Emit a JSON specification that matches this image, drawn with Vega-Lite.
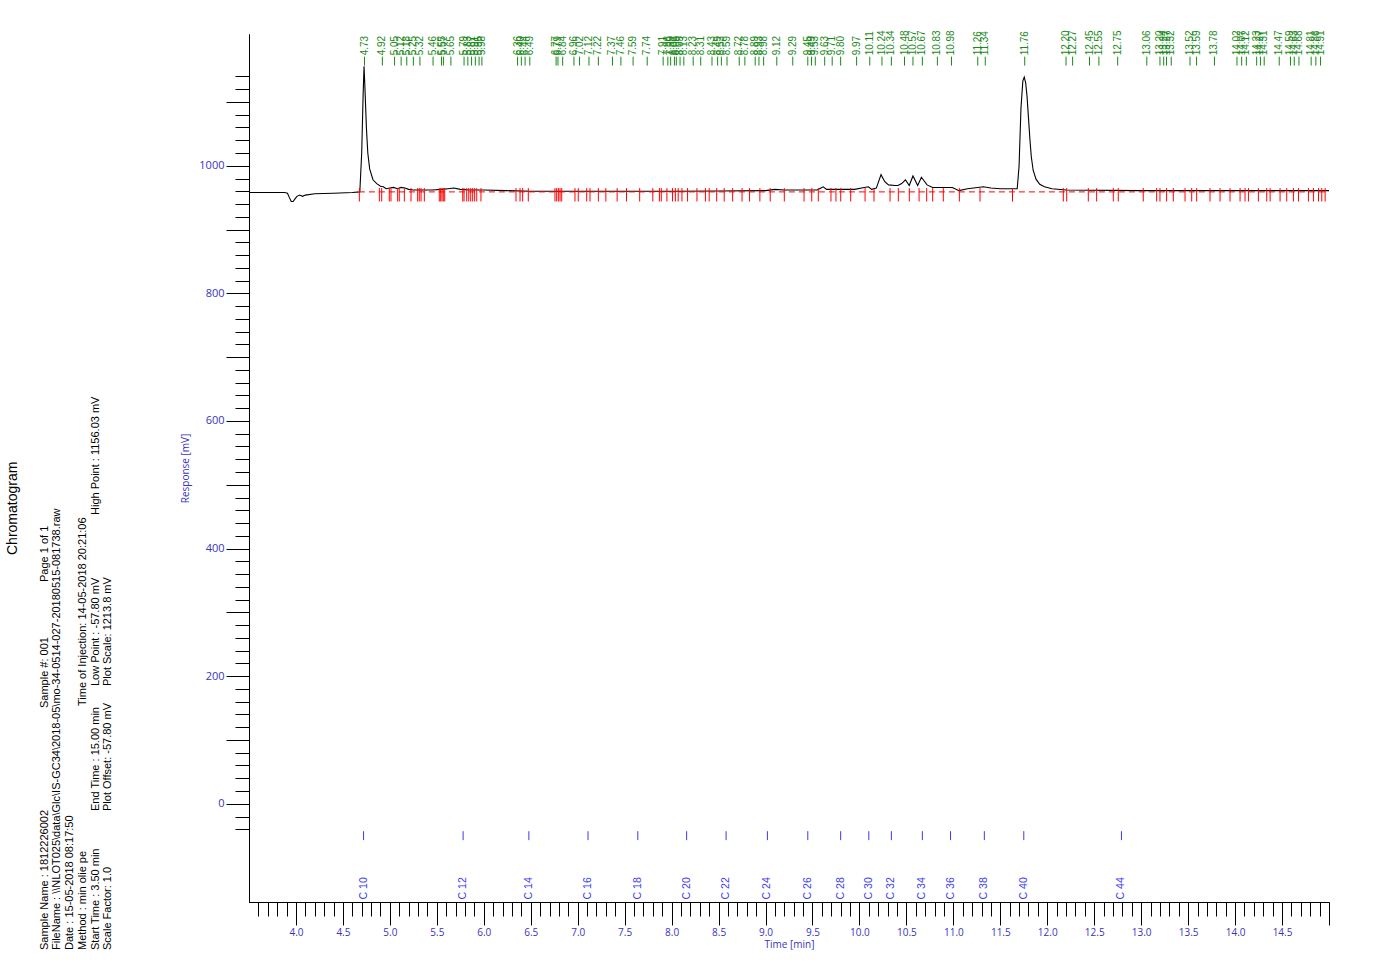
{
  "$schema": "https://vega.github.io/schema/vega-lite/v6.json",
  "width": 1080,
  "height": 868,
  "autosize": {"type": "none"},
  "padding": {"left": 249, "top": 34, "right": 50, "bottom": 76},
  "background": "white",
  "config": {
    "view": {"stroke": null},
    "axis": {"grid": false, "domainColor": "black", "tickColor": "black", "labelFont": "Open Sans", "titleFont": "Open Sans", "titleFontWeight": "normal", "domainWidth": 1, "tickWidth": 1}
  },
  "datasets": {
    "trace": [
      {"t": 3.5, "v": 958}, {"t": 3.7, "v": 958}, {"t": 3.88, "v": 958}, {"t": 3.91, "v": 957}, {"t": 3.93, "v": 950}, {"t": 3.95, "v": 944}, {"t": 3.97, "v": 944}, {"t": 3.99, "v": 948}, {"t": 4.01, "v": 952}, {"t": 4.04, "v": 954}, {"t": 4.07, "v": 952}, {"t": 4.1, "v": 954}, {"t": 4.2, "v": 956}, {"t": 4.4, "v": 957}, {"t": 4.6, "v": 958}, {"t": 4.68, "v": 959},
      {"t": 4.7, "v": 1020}, {"t": 4.715, "v": 1110}, {"t": 4.725, "v": 1156}, {"t": 4.735, "v": 1120}, {"t": 4.75, "v": 1060}, {"t": 4.765, "v": 1020}, {"t": 4.785, "v": 995}, {"t": 4.82, "v": 978}, {"t": 4.86, "v": 972}, {"t": 4.9, "v": 968}, {"t": 4.93, "v": 967}, {"t": 4.96, "v": 964}, {"t": 5.0, "v": 965}, {"t": 5.04, "v": 966}, {"t": 5.08, "v": 964}, {"t": 5.12, "v": 966}, {"t": 5.16, "v": 965}, {"t": 5.2, "v": 963}, {"t": 5.25, "v": 962}, {"t": 5.35, "v": 962}, {"t": 5.45, "v": 962}, {"t": 5.55, "v": 963}, {"t": 5.62, "v": 964}, {"t": 5.68, "v": 965}, {"t": 5.75, "v": 963}, {"t": 5.85, "v": 962}, {"t": 6.0, "v": 962}, {"t": 6.24, "v": 961}, {"t": 6.5, "v": 960}, {"t": 6.95, "v": 960}, {"t": 7.5, "v": 960}, {"t": 8.0, "v": 960}, {"t": 8.5, "v": 960.5}, {"t": 9.0, "v": 961}, {"t": 9.1, "v": 963}, {"t": 9.2, "v": 962}, {"t": 9.4, "v": 962}, {"t": 9.55, "v": 962}, {"t": 9.6, "v": 966}, {"t": 9.615, "v": 967}, {"t": 9.65, "v": 963}, {"t": 9.8, "v": 963}, {"t": 9.95, "v": 963}, {"t": 10.05, "v": 966}, {"t": 10.095, "v": 967}, {"t": 10.13, "v": 963}, {"t": 10.18, "v": 965}, {"t": 10.23, "v": 986}, {"t": 10.27, "v": 975}, {"t": 10.31, "v": 970}, {"t": 10.38, "v": 969}, {"t": 10.41, "v": 969}, {"t": 10.45, "v": 972}, {"t": 10.49, "v": 978}, {"t": 10.53, "v": 969}, {"t": 10.57, "v": 984}, {"t": 10.62, "v": 969}, {"t": 10.66, "v": 982}, {"t": 10.72, "v": 970}, {"t": 10.78, "v": 966}, {"t": 10.9, "v": 966}, {"t": 10.99, "v": 966}, {"t": 11.06, "v": 961}, {"t": 11.15, "v": 964}, {"t": 11.32, "v": 967}, {"t": 11.4, "v": 965}, {"t": 11.5, "v": 964}, {"t": 11.64, "v": 964}, {"t": 11.68, "v": 964},
      {"t": 11.7, "v": 1000}, {"t": 11.72, "v": 1090}, {"t": 11.74, "v": 1133}, {"t": 11.755, "v": 1139}, {"t": 11.77, "v": 1130}, {"t": 11.785, "v": 1108}, {"t": 11.8, "v": 1075}, {"t": 11.815, "v": 1042}, {"t": 11.83, "v": 1014}, {"t": 11.85, "v": 993}, {"t": 11.88, "v": 979}, {"t": 11.92, "v": 971}, {"t": 11.97, "v": 967}, {"t": 12.05, "v": 964}, {"t": 12.2, "v": 962}, {"t": 13.0, "v": 961}, {"t": 14.0, "v": 961}, {"t": 15.0, "v": 961}
    ],
    "peaks": [
      {"rt": 4.73}, {"rt": 4.92}, {"rt": 5.05}, {"rt": 5.12}, {"rt": 5.18}, {"rt": 5.25}, {"rt": 5.32}, {"rt": 5.46}, {"rt": 5.55}, {"rt": 5.57}, {"rt": 5.65}, {"rt": 5.79}, {"rt": 5.83}, {"rt": 5.87}, {"rt": 5.91}, {"rt": 5.95}, {"rt": 5.98}, {"rt": 6.36}, {"rt": 6.4}, {"rt": 6.44}, {"rt": 6.49}, {"rt": 6.77}, {"rt": 6.79}, {"rt": 6.84}, {"rt": 6.96}, {"rt": 7.02}, {"rt": 7.12}, {"rt": 7.22}, {"rt": 7.37}, {"rt": 7.46}, {"rt": 7.59}, {"rt": 7.74}, {"rt": 7.91}, {"rt": 7.96}, {"rt": 7.99}, {"rt": 8.03}, {"rt": 8.05}, {"rt": 8.09}, {"rt": 8.13}, {"rt": 8.23}, {"rt": 8.31}, {"rt": 8.43}, {"rt": 8.49}, {"rt": 8.53}, {"rt": 8.59}, {"rt": 8.72}, {"rt": 8.78}, {"rt": 8.89}, {"rt": 8.93}, {"rt": 8.98}, {"rt": 9.12}, {"rt": 9.29}, {"rt": 9.45}, {"rt": 9.49}, {"rt": 9.53}, {"rt": 9.63}, {"rt": 9.71}, {"rt": 9.8}, {"rt": 9.97}, {"rt": 10.11}, {"rt": 10.24}, {"rt": 10.34}, {"rt": 10.48}, {"rt": 10.57}, {"rt": 10.67}, {"rt": 10.83}, {"rt": 10.98}, {"rt": 11.26}, {"rt": 11.34}, {"rt": 11.76}, {"rt": 12.2}, {"rt": 12.27}, {"rt": 12.45}, {"rt": 12.55}, {"rt": 12.75}, {"rt": 13.06}, {"rt": 13.2}, {"rt": 13.24}, {"rt": 13.27}, {"rt": 13.32}, {"rt": 13.52}, {"rt": 13.59}, {"rt": 13.78}, {"rt": 14.02}, {"rt": 14.07}, {"rt": 14.12}, {"rt": 14.23}, {"rt": 14.27}, {"rt": 14.31}, {"rt": 14.47}, {"rt": 14.59}, {"rt": 14.63}, {"rt": 14.68}, {"rt": 14.81}, {"rt": 14.86}, {"rt": 14.91}
    ],
    "marks": [
      {"t": 4.675}, {"t": 4.888}, {"t": 4.913}, {"t": 4.994}, {"t": 5.012}, {"t": 5.083}, {"t": 5.1}, {"t": 5.154}, {"t": 5.225}, {"t": 5.296}, {"t": 5.313}, {"t": 5.332}, {"t": 5.367}, {"t": 5.526}, {"t": 5.541}, {"t": 5.555}, {"t": 5.569}, {"t": 5.584}, {"t": 5.776}, {"t": 5.79}, {"t": 5.818}, {"t": 5.84}, {"t": 5.861}, {"t": 5.882}, {"t": 5.903}, {"t": 5.925}, {"t": 5.97}, {"t": 6.343}, {"t": 6.386}, {"t": 6.414}, {"t": 6.474}, {"t": 6.758}, {"t": 6.776}, {"t": 6.794}, {"t": 6.812}, {"t": 6.83}, {"t": 6.971}, {"t": 7.006}, {"t": 7.096}, {"t": 7.131}, {"t": 7.22}, {"t": 7.3}, {"t": 7.42}, {"t": 7.52}, {"t": 7.66}, {"t": 7.8}, {"t": 7.87}, {"t": 7.89}, {"t": 7.95}, {"t": 8.01}, {"t": 8.04}, {"t": 8.07}, {"t": 8.11}, {"t": 8.17}, {"t": 8.27}, {"t": 8.36}, {"t": 8.4}, {"t": 8.48}, {"t": 8.56}, {"t": 8.65}, {"t": 8.75}, {"t": 8.83}, {"t": 8.94}, {"t": 9.05}, {"t": 9.2}, {"t": 9.41}, {"t": 9.492}, {"t": 9.562}, {"t": 9.697}, {"t": 9.75}, {"t": 9.801}, {"t": 9.907}, {"t": 10.06}, {"t": 10.155}, {"t": 10.326}, {"t": 10.414}, {"t": 10.531}, {"t": 10.635}, {"t": 10.716}, {"t": 10.78}, {"t": 10.893}, {"t": 11.064}, {"t": 11.284}, {"t": 11.63}, {"t": 12.171}, {"t": 12.207}, {"t": 12.437}, {"t": 12.526}, {"t": 12.703}, {"t": 12.756}, {"t": 13.022}, {"t": 13.165}, {"t": 13.2}, {"t": 13.271}, {"t": 13.342}, {"t": 13.467}, {"t": 13.538}, {"t": 13.591}, {"t": 13.733}, {"t": 13.84}, {"t": 13.946}, {"t": 14.053}, {"t": 14.106}, {"t": 14.142}, {"t": 14.248}, {"t": 14.337}, {"t": 14.373}, {"t": 14.479}, {"t": 14.55}, {"t": 14.621}, {"t": 14.675}, {"t": 14.781}, {"t": 14.834}, {"t": 14.888}, {"t": 14.923}, {"t": 14.959}
    ],
    "alkanes": [
      {"name": "C 10", "rt": 4.72}, {"name": "C 12", "rt": 5.78}, {"name": "C 14", "rt": 6.48}, {"name": "C 16", "rt": 7.11}, {"name": "C 18", "rt": 7.64}, {"name": "C 20", "rt": 8.16}, {"name": "C 22", "rt": 8.58}, {"name": "C 24", "rt": 9.02}, {"name": "C 26", "rt": 9.45}, {"name": "C 28", "rt": 9.8}, {"name": "C 30", "rt": 10.1}, {"name": "C 32", "rt": 10.34}, {"name": "C 34", "rt": 10.67}, {"name": "C 36", "rt": 10.97}, {"name": "C 38", "rt": 11.33}, {"name": "C 40", "rt": 11.75}, {"name": "C 44", "rt": 12.79}
    ],
    "header": [
      {"txt": "Chromatogram", "ln": 0, "pos": 423, "size": 14},
      {"txt": "Sample Name : 1812226002", "ln": 2.5, "pos": 28, "size": 11},
      {"txt": "Sample #: 001", "ln": 2.5, "pos": 270, "size": 11},
      {"txt": "Page 1 of 1", "ln": 2.5, "pos": 396, "size": 11},
      {"txt": "FileName  : \\\\NLOT025\\data\\Glc\\IS-GC34\\2018-05\\mo-34-0514-027-20180515-081738.raw", "ln": 3.5, "pos": 28, "size": 11},
      {"txt": "Date : 15-05-2018 08:17:50", "ln": 4.5, "pos": 28, "size": 11},
      {"txt": "Method     : min olie pe", "ln": 5.5, "pos": 28, "size": 11},
      {"txt": "Time of Injection: 14-05-2018 20:21:06", "ln": 5.5, "pos": 272, "size": 11},
      {"txt": "Start Time  : 3.50 min", "ln": 6.5, "pos": 28, "size": 11},
      {"txt": "End Time   : 15.00 min", "ln": 6.5, "pos": 167, "size": 11},
      {"txt": "Low Point : -57.80 mV", "ln": 6.5, "pos": 292, "size": 11},
      {"txt": "High Point : 1156.03 mV", "ln": 6.5, "pos": 463, "size": 11},
      {"txt": "Scale Factor:  1.0", "ln": 7.5, "pos": 28, "size": 11},
      {"txt": "Plot Offset: -57.80 mV", "ln": 7.5, "pos": 167, "size": 11},
      {"txt": "Plot Scale: 1213.8 mV", "ln": 7.5, "pos": 292, "size": 11}
    ]
  },
  "resolve": {
    "scale": {"x": "independent", "y": "independent"},
    "axis": {"x": "independent", "y": "independent"}
  },
  "layer": [
    {
      "data": {"name": "trace"},
      "mark": {"type": "line", "color": "black", "strokeWidth": 1.1},
      "encoding": {
        "x": {"field": "t", "type": "quantitative", "scale": {"domain": [3.5, 15], "nice": false, "zero": false},
          "axis": {"orient": "bottom", "values": [4, 4.5, 5, 5.5, 6, 6.5, 7, 7.5, 8, 8.5, 9, 9.5, 10, 10.5, 11, 11.5, 12, 12.5, 13, 13.5, 14, 14.5, 15],
            "tickSize": 23, "labelExpr": "datum.value > 14.9 ? '' : format(datum.value, '.1f')", "labelFontSize": 10, "labelColor": "#3a32c0", "labelPadding": 2, "labelFlush": false, "labelOverlap": false,
            "title": "Time [min]", "titleFontSize": 10, "titleColor": "#3a32c0", "titlePadding": 2}},
        "y": {"field": "v", "type": "quantitative", "scale": {"domain": [-154, 1206.5], "nice": false, "zero": false},
          "axis": {"orient": "left", "values": [0, 100, 200, 300, 400, 500, 600, 700, 800, 900, 1000, 1100],
            "tickSize": 23, "labelExpr": "datum.value % 200 === 0 ? format(datum.value, 'd') : ''", "labelFontSize": 11, "labelColor": "#3a32c0", "labelPadding": 2, "labelFlush": false, "labelOverlap": false,
            "title": "Response [mV]", "titleFontSize": 10, "titleColor": "#3a32c0", "titlePadding": 8}}
      }
    },
    {
      "data": {"values": [{}]},
      "mark": {"type": "rule", "color": "#ff0000", "strokeWidth": 1, "strokeDash": [6, 4]},
      "encoding": {
        "x": {"datum": 4.67, "type": "quantitative", "scale": {"domain": [3.5, 15], "nice": false, "zero": false},
          "axis": {"orient": "bottom", "values": [3.6, 3.7, 3.8, 3.9, 4.0, 4.1, 4.2, 4.3, 4.4, 4.5, 4.6, 4.7, 4.8, 4.9, 5.0, 5.1, 5.2, 5.3, 5.4, 5.5, 5.6, 5.7, 5.8, 5.9, 6.0, 6.1, 6.2, 6.3, 6.4, 6.5, 6.6, 6.7, 6.8, 6.9, 7.0, 7.1, 7.2, 7.3, 7.4, 7.5, 7.6, 7.7, 7.8, 7.9, 8.0, 8.1, 8.2, 8.3, 8.4, 8.5, 8.6, 8.7, 8.8, 8.9, 9.0, 9.1, 9.2, 9.3, 9.4, 9.5, 9.6, 9.7, 9.8, 9.9, 10.0, 10.1, 10.2, 10.3, 10.4, 10.5, 10.6, 10.7, 10.8, 10.9, 11.0, 11.1, 11.2, 11.3, 11.4, 11.5, 11.6, 11.7, 11.8, 11.9, 12.0, 12.1, 12.2, 12.3, 12.4, 12.5, 12.6, 12.7, 12.8, 12.9, 13.0, 13.1, 13.2, 13.3, 13.4, 13.5, 13.6, 13.7, 13.8, 13.9, 14.0, 14.1, 14.2, 14.3, 14.4, 14.5, 14.6, 14.7, 14.8, 14.9],
            "tickSize": 14, "labels": false, "title": null}},
        "x2": {"datum": 15},
        "y": {"datum": 959, "type": "quantitative", "scale": {"domain": [-154, 1206.5], "nice": false, "zero": false},
          "axis": {"orient": "left", "values": [-40, -20, 0, 20, 40, 60, 80, 100, 120, 140, 160, 180, 200, 220, 240, 260, 280, 300, 320, 340, 360, 380, 400, 420, 440, 460, 480, 500, 520, 540, 560, 580, 600, 620, 640, 660, 680, 700, 720, 740, 760, 780, 800, 820, 840, 860, 880, 900, 920, 940, 960, 980, 1000, 1020, 1040, 1060, 1080, 1100, 1120, 1140],
            "tickSize": 14, "labels": false, "title": null}}
      }
    },
    {
      "data": {"name": "marks"},
      "mark": {"type": "rule", "color": "#ff0000", "strokeWidth": 1},
      "encoding": {
        "x": {"field": "t", "type": "quantitative", "scale": {"domain": [3.5, 15], "nice": false, "zero": false}, "axis": null},
        "y": {"datum": 944, "type": "quantitative", "scale": {"domain": [-154, 1206.5], "nice": false, "zero": false}, "axis": null},
        "y2": {"datum": 965}
      }
    },
    {
      "data": {"name": "peaks"},
      "mark": {"type": "rule", "color": "#188a18", "strokeWidth": 1},
      "encoding": {
        "x": {"field": "rt", "type": "quantitative", "scale": {"domain": [3.5, 15], "nice": false, "zero": false}, "axis": null},
        "y": {"datum": 1157, "type": "quantitative", "scale": {"domain": [-154, 1206.5], "nice": false, "zero": false}, "axis": null},
        "y2": {"datum": 1171}
      }
    },
    {
      "data": {"name": "peaks"},
      "mark": {"type": "text", "color": "#188a18", "angle": 270, "align": "left", "baseline": "middle", "font": "Liberation Sans", "fontSize": 10},
      "encoding": {
        "x": {"field": "rt", "type": "quantitative", "scale": {"domain": [3.5, 15], "nice": false, "zero": false}, "axis": null},
        "y": {"datum": 1173, "type": "quantitative", "scale": {"domain": [-154, 1206.5], "nice": false, "zero": false}, "axis": null},
        "text": {"field": "rt", "type": "quantitative", "format": ".2f"}
      }
    },
    {
      "data": {"name": "alkanes"},
      "mark": {"type": "rule", "color": "#3b3bf0", "strokeWidth": 1},
      "encoding": {
        "x": {"field": "rt", "type": "quantitative", "scale": {"domain": [3.5, 15], "nice": false, "zero": false}, "axis": null},
        "y": {"datum": -43, "type": "quantitative", "scale": {"domain": [-154, 1206.5], "nice": false, "zero": false}, "axis": null},
        "y2": {"datum": -57}
      }
    },
    {
      "data": {"name": "alkanes"},
      "mark": {"type": "text", "color": "#3b3bf0", "angle": 270, "align": "left", "baseline": "middle", "font": "Liberation Sans", "fontSize": 10.5},
      "encoding": {
        "x": {"field": "rt", "type": "quantitative", "scale": {"domain": [3.5, 15], "nice": false, "zero": false}, "axis": null},
        "y": {"datum": -150, "type": "quantitative", "scale": {"domain": [-154, 1206.5], "nice": false, "zero": false}, "axis": null},
        "text": {"field": "name", "type": "nominal"}
      }
    },
    {
      "data": {"name": "header"},
      "mark": {"type": "text", "color": "black", "angle": 270, "align": "left", "baseline": "middle", "font": "Liberation Sans"},
      "encoding": {
        "x": {"field": "ln", "type": "quantitative", "scale": {"domain": [0, 7.5], "range": [-236, -140.75], "nice": false, "zero": false}, "axis": null},
        "y": {"field": "pos", "type": "quantitative", "scale": {"domain": [0, 944], "range": [944, 0], "nice": false, "zero": false}, "axis": null},
        "size": {"field": "size", "type": "quantitative", "scale": null, "legend": null},
        "text": {"field": "txt", "type": "nominal"}
      }
    }
  ]
}
